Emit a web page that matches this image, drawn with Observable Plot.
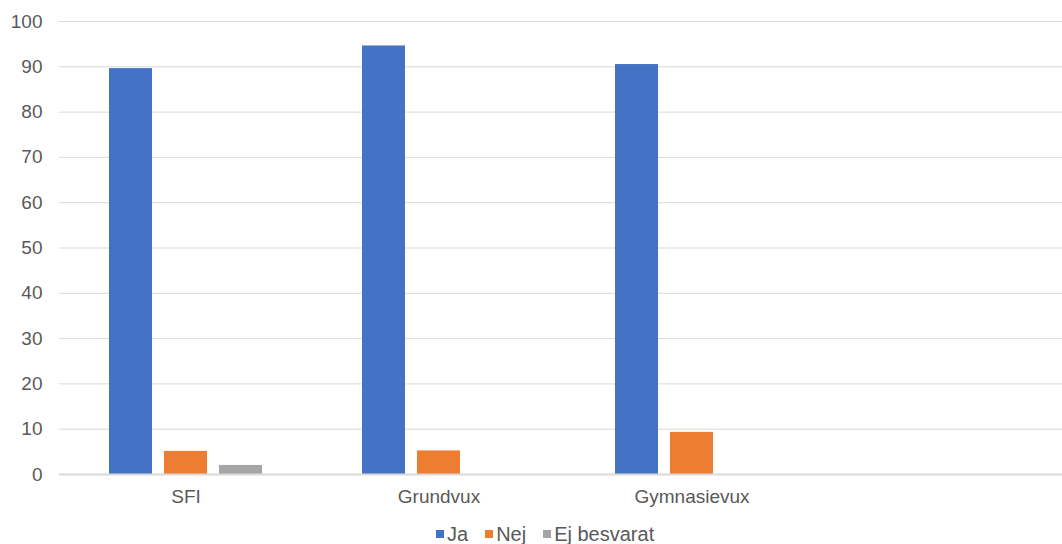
<!DOCTYPE html>
<html>
<head>
<meta charset="utf-8">
<script src="https://cdn.jsdelivr.net/npm/d3@7"></script>
<script src="https://cdn.jsdelivr.net/npm/@observablehq/plot@0.6"></script>
<style>
  html, body { margin: 0; padding: 0; background: #fff; overflow: hidden; }
  #wrap { position: relative; width: 1062px; height: 544px; font-family: "Liberation Sans", Arial, sans-serif; color: #595959; }
  #legend { position: absolute; left: 436px; top: 523px; height: 22px; line-height: 22px; font-size: 20px; display: flex; align-items: center; white-space: nowrap; }
  #legend .item { display: flex; align-items: center; margin-right: 17px; }
  #legend .sw { width: 8px; height: 8px; margin-right: 3px; }
</style>
</head>
<body>
<div id="wrap"><div id="chart"></div><div id="legend"></div></div>
<script>
const categories = ["SFI", "Grundvux", "Gymnasievux", " "];
const series = ["Ja", "Nej", "Ej besvarat"];
const ja = [89.6, 94.6, 90.5, null];
const nej = [5.1, 5.2, 9.3, null];
const ejBesvarat = [2.0, 0, 0, null];
const colors = ["#4472C4", "#ED7D31", "#A5A5A5"];
const yTicks = [0, 10, 20, 30, 40, 50, 60, 70, 80, 90, 100];

const valuesBySeries = [ja, nej, ejBesvarat];
const data = [];
categories.forEach((c, i) => {
  series.forEach((s, j) => data.push({cat: c, series: s, value: valuesBySeries[j][i]}));
});

const chart = Plot.plot({
  width: 1062,
  height: 512,
  marginLeft: 59,
  marginRight: 0,
  marginTop: 21,
  marginBottom: 38,
  facet: {data: data, x: "cat"},
  style: {fontFamily: "Liberation Sans, Arial, sans-serif", fontSize: "19px", color: "#595959", background: "transparent"},
  fx: {domain: categories, range: [59, 1071], padding: 0, axis: "bottom", label: null, tickSize: 0, tickPadding: 15},
  x: {domain: series, axis: null, paddingInner: 0.214, paddingOuter: 0.866},
  y: {domain: [0, 100], ticks: yTicks, tickSize: 0, tickPadding: 17, label: null},
  color: {domain: series, range: colors},
  marks: [
    Plot.ruleY(yTicks.filter(d => d > 0), {stroke: "#d9d9d9", strokeWidth: 1}),
    Plot.barY(data, {x: "series", y: "value", fill: "series"}),
    Plot.ruleY([0], {stroke: "#d9d9d9", strokeWidth: 2})
  ]
});
document.getElementById("chart").appendChild(chart);

const legend = document.getElementById("legend");
series.forEach((s, i) => {
  const item = document.createElement("div");
  item.className = "item";
  const sw = document.createElement("div");
  sw.className = "sw";
  sw.style.background = colors[i];
  const t = document.createElement("span");
  t.textContent = s;
  item.appendChild(sw);
  item.appendChild(t);
  legend.appendChild(item);
});
</script>
</body>
</html>
